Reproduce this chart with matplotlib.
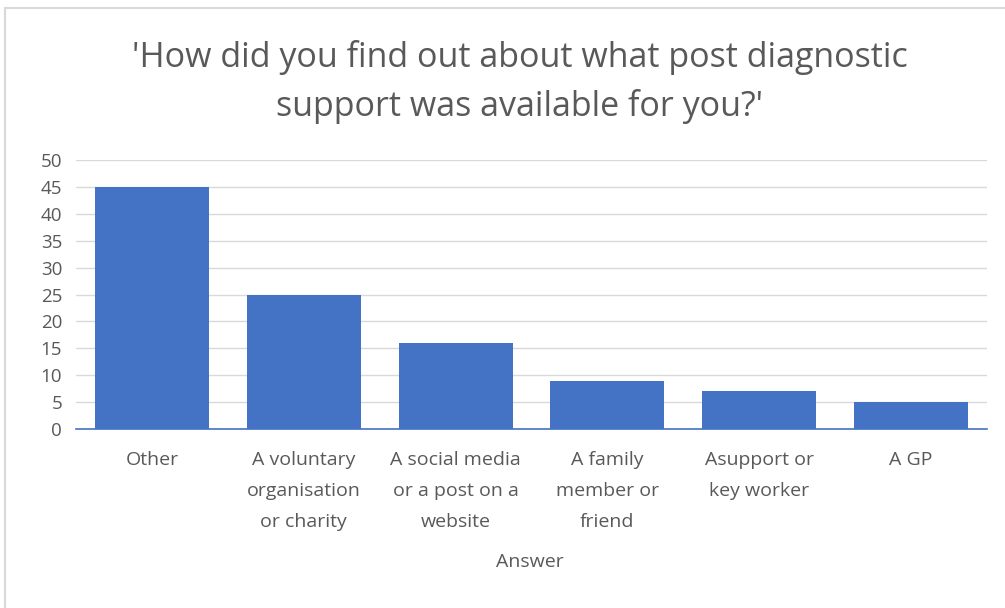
import matplotlib
matplotlib.use("Agg")
import matplotlib.pyplot as plt
from matplotlib.patches import Rectangle

categories = ["Other", "A voluntary\norganisation\nor charity", "A social media\nor a post on a\nwebsite",
              "A family\nmember or\nfriend", "Asupport or\nkey worker", "A GP"]
values = [45, 25, 16, 9, 7, 5]
yticks = [0, 5, 10, 15, 20, 25, 30, 35, 40, 45, 50]
title = "'How did you find out about what post diagnostic\nsupport was available for you?'"
xlabel = "Answer"

plt.rcParams['font.family'] = ['Open Sans', 'DejaVu Sans']
txt = '#595959'

fig = plt.figure(figsize=(10.05, 6.08), dpi=100)
fig.patch.set_facecolor('white')
fig.patches.append(Rectangle((5/1005, -0.1), 1.2, 1 - 8/608 + 0.1, transform=fig.transFigure,
                             fill=False, edgecolor='#d9d9d9', linewidth=1.5))

ax = fig.add_axes([76/1005, 1 - 429/608, (987 - 76)/1005, (429 - 160)/608])
x = range(len(categories))
ax.bar(x, values, width=0.75, color='#4472C4', zorder=3)
ax.set_xlim(-0.5, len(categories) - 0.5)
ax.set_ylim(0, 50)
ax.set_yticks(yticks)
ax.set_yticklabels([str(t) for t in yticks], fontsize=13.5, color=txt)
ax.set_xticks(list(x))
ax.set_xticklabels(categories, fontsize=14, color=txt, linespacing=1.92, va='top')
ax.tick_params(axis='both', length=0)
ax.tick_params(axis='x', pad=16)
ax.tick_params(axis='y', pad=10)
ax.yaxis.grid(True, color='#d9d9d9', linewidth=1, zorder=0)
for s in ['top', 'right', 'left']:
    ax.spines[s].set_visible(False)
ax.spines['bottom'].set_color('#4472C4')
ax.spines['bottom'].set_linewidth(1.2)
ax.spines['bottom'].set_zorder(4)

fig.text(520/1005, 1 - 82/608, title, ha='center', va='center', fontsize=24.5, color=txt, linespacing=1.5)
fig.text(530/1005, 1 - 562/608, xlabel, ha='center', va='center', fontsize=14, color=txt)

fig.savefig("out.png", dpi=100, facecolor='white')
